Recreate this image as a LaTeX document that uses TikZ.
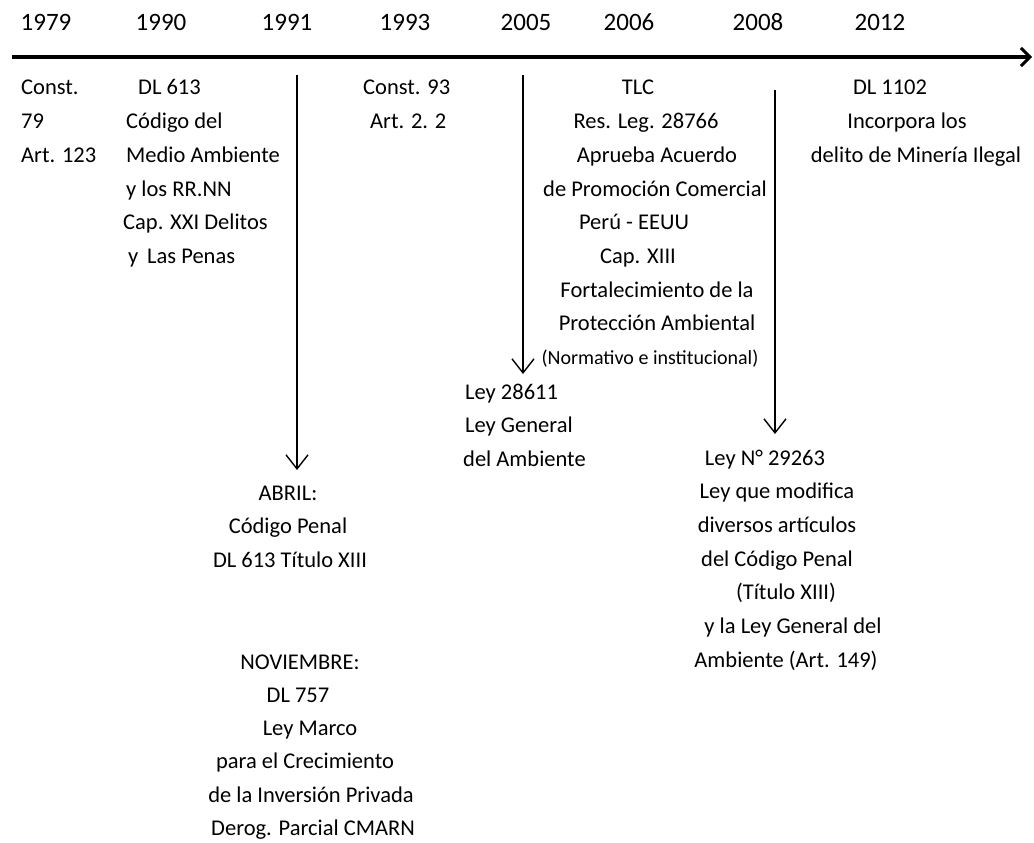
\documentclass[tikz,border=0pt]{standalone}
\usepackage{fontspec}
\setmainfont{Carlito}
\usetikzlibrary{arrows.meta}
\begin{document}
\begin{tikzpicture}[x=1pt,y=-1pt,
  yr/.style={anchor=base,inner sep=0pt,font=\fontsize{25}{30}\selectfont},
  tx/.style={anchor=base,inner sep=0pt,font=\fontsize{22.5}{30}\selectfont},
  txl/.style={anchor=base west,inner sep=0pt,font=\fontsize{22.5}{30}\selectfont},
  sm/.style={anchor=base,inner sep=0pt,font=\fontsize{20}{24}\selectfont},
  axisline/.style={line width=4.5pt,-{Straight Barb[length=9pt,width=18pt,line width=3pt]}},
  arr/.style={line width=1.4pt,-{Straight Barb[length=14pt,width=22pt,line width=1.4pt]}}]
\useasboundingbox (0,0) rectangle (1034,843);
\fill[white] (0,0) rectangle (1034,843);

% years
\node[yr] (y1979) at (46,31) {1979};
\node[yr] (y1990) at (161,31) {1990};
\node[yr] (y1991) at (287,31) {1991};
\node[yr] (y1993) at (405,31) {1993};
\node[yr] (y2005) at (526,31) {2005};
\node[yr] (y2006) at (629,31) {2006};
\node[yr] (y2008) at (758,31) {2008};
\node[yr] (y2012) at (880,31) {2012};

% axis
\coordinate (axL) at (12,57);
\coordinate (axR) at (1032,57);
\draw[axisline] (axL) -- (axR);

% arrows
\coordinate (a91s) at (297,75);  \coordinate (a91e) at (297,470);
\coordinate (a05s) at (523,75);  \coordinate (a05e) at (523,374);
\coordinate (a08s) at (775,90);  \coordinate (a08e) at (775,434);
\draw[arr] (a91s) -- (a91e);
\draw[arr] (a05s) -- (a05e);
\draw[arr] (a08s) -- (a08e);

% 1979
\node[txl] (c1) at (21,95) {Const.};
\node[txl] (c2) at (21,128.7) {79};
\node[txl] (c3) at (21,162.4) {Art. 123};

% 1990
\node[txl] (d1) at (138,95) {DL 613};
\node[txl] (d2) at (126,128.7) {Código del};
\node[txl] (d3) at (126,162.4) {Medio Ambiente};
\node[txl] (d4) at (126,196.1) {y los RR.NN};
\node[txl] (d5) at (123,229.8) {Cap. XXI Delitos};
\node[txl] (d6) at (128,263.5) {y\, Las Penas};

% 1993
\node[txl] (e1) at (363,95) {Const. 93};
\node[txl] (e2) at (370,128.7) {Art. 2. 2};

% 2006
\node[tx] (f1) at (638,95) {TLC};
\node[tx] (f2) at (646,128.7) {Res. Leg. 28766};
\node[tx] (f3) at (657,162.4) {Aprueba Acuerdo};
\node[tx] (f4) at (655,196.1) {de Promoción Comercial};
\node[tx] (f5) at (634,229.8) {Perú - EEUU};
\node[tx] (f6) at (638,263.5) {Cap. XIII};
\node[tx] (f7) at (657,297.2) {Fortalecimiento de la};
\node[tx] (f8) at (657,330.9) {Protección Ambiental};
\node[sm] (f9) at (650,364.6) {(Normativo e institucional)};

% 2012
\node[tx] (g1) at (890,95) {DL 1102};
\node[tx] (g2) at (907,128.7) {Incorpora los};
\node[tx] (g3) at (916,162.4) {delito de Minería Ilegal};

% 2005
\node[txl] (h1) at (465,399) {Ley 28611};
\node[txl] (h2) at (465,432.7) {Ley General};
\node[txl] (h3) at (463,466.4) {del Ambiente};

% 2008
\node[tx] (k1) at (765,465) {Ley N° 29263};
\node[tx] (k2) at (777,498.7) {Ley que modifica};
\node[tx] (k3) at (777,532.4) {diversos artículos};
\node[tx] (k4) at (777,566.1) {del Código Penal};
\node[tx] (k5) at (786,599.8) {(Título XIII)};
\node[tx] (k6) at (793,633.5) {y la Ley General del};
\node[tx] (k7) at (786,667.2) {Ambiente (Art. 149)};

% 1991 April
\node[tx] (m1) at (288,500) {ABRIL:};
\node[tx] (m2) at (288,533.7) {Código Penal};
\node[tx] (m3) at (290,567.4) {DL 613 Título XIII};

% 1991 November
\node[tx] (n1) at (300,669) {NOVIEMBRE:};
\node[tx] (n2) at (298,702.3) {DL 757};
\node[tx] (n3) at (310,735.6) {Ley Marco};
\node[tx] (n4) at (305,768.9) {para el Crecimiento};
\node[tx] (n5) at (311,802.2) {de la Inversión Privada};
\node[tx] (n6) at (313,835.5) {Derog. Parcial CMARN};
\end{tikzpicture}
\end{document}
